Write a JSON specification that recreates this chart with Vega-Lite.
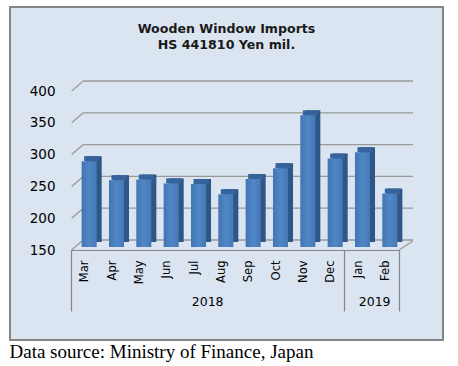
{
  "$schema": "https://vega.github.io/schema/vega-lite/v6.json",
  "width": 433,
  "height": 333,
  "autosize": {"type": "none"},
  "padding": {"left": 10, "top": 7, "right": 15, "bottom": 26},
  "background": "white",
  "view": {"fill": "#dbe5f1", "stroke": "#858585", "strokeWidth": 2},
  "title": {
    "text": ["Wooden Window Imports", "HS 441810 Yen mil."],
    "anchor": "middle",
    "frame": "group",
    "orient": "top",
    "baseline": "bottom",
    "offset": -58,
    "lineHeight": 16,
    "font": "DejaVu Sans",
    "fontSize": 12.6,
    "fontWeight": "bold",
    "color": "#1a1a1a"
  },
  "datasets": {
    "imports": [
      {"month": "Mar", "year": "2018", "value": 285},
      {"month": "Apr", "year": "2018", "value": 255},
      {"month": "May", "year": "2018", "value": 256},
      {"month": "Jun", "year": "2018", "value": 250},
      {"month": "Jul", "year": "2018", "value": 249},
      {"month": "Aug", "year": "2018", "value": 233},
      {"month": "Sep", "year": "2018", "value": 257},
      {"month": "Oct", "year": "2018", "value": 274},
      {"month": "Nov", "year": "2018", "value": 357},
      {"month": "Dec", "year": "2018", "value": 289},
      {"month": "Jan", "year": "2019", "value": 299},
      {"month": "Feb", "year": "2019", "value": 234}
    ],
    "grid": [{"v": 150}, {"v": 200}, {"v": 250}, {"v": 300}, {"v": 350}, {"v": 400}],
    "years": [{"year": "2018"}, {"year": "2019"}]
  },
  "layer": [
    {
      "data": {"name": "grid"},
      "mark": {"type": "rule", "color": "#999999", "strokeWidth": 1.3, "xOffset": 12.3, "x2Offset": 27.6, "yOffset": -7, "y2Offset": -7},
      "encoding": {
        "x": {"datum": "Mar", "type": "nominal", "bandPosition": 0},
        "x2": {"datum": "Feb"},
        "y": {"field": "v", "type": "quantitative"}
      }
    },
    {
      "data": {"name": "grid"},
      "mark": {"type": "rule", "color": "#999999", "strokeWidth": 1.3, "xOffset": 0.7, "x2Offset": -1.4, "yOffset": 3, "y2Offset": -7},
      "encoding": {
        "x": {"datum": "Mar", "type": "nominal", "bandPosition": 0},
        "x2": {"datum": "Mar"},
        "y": {"field": "v", "type": "quantitative"},
        "y2": {"field": "v"}
      }
    },
    {
      "data": {"name": "grid"},
      "transform": [{"filter": "datum.v == 150"}],
      "mark": {"type": "rule", "color": "#999999", "strokeWidth": 1.3, "xOffset": 0, "x2Offset": 27.7, "yOffset": 3, "y2Offset": -6},
      "encoding": {
        "x": {"datum": "Feb", "type": "nominal", "bandPosition": 1},
        "x2": {"datum": "Feb"},
        "y": {"field": "v", "type": "quantitative"},
        "y2": {"field": "v"}
      }
    },
    {
      "data": {"name": "imports"},
      "mark": {"type": "bar", "color": "#2e5686", "width": {"band": 0.55}, "xOffset": 9.5, "yOffset": -5, "y2Offset": -5},
      "encoding": {
        "x": {"field": "month", "type": "nominal"},
        "y": {"field": "value", "type": "quantitative"},
        "y2": {"datum": 150}
      }
    },
    {
      "data": {"name": "imports"},
      "mark": {"type": "bar", "color": "#36639b", "width": {"band": 0.55}, "xOffset": 7, "yOffset": -5, "y2Offset": 0},
      "encoding": {
        "x": {"field": "month", "type": "nominal"},
        "y": {"field": "value", "type": "quantitative"},
        "y2": {"field": "value"}
      }
    },
    {
      "data": {"name": "imports"},
      "mark": {
        "type": "bar",
        "width": {"band": 0.55},
        "xOffset": 4.5,
        "color": {
          "gradient": "linear", "x1": 0, "x2": 1, "y1": 0, "y2": 0,
          "stops": [
            {"offset": 0, "color": "#4374b2"},
            {"offset": 0.5, "color": "#5087c6"},
            {"offset": 1, "color": "#4778b6"}
          ]
        }
      },
      "encoding": {
        "x": {
          "field": "month",
          "type": "nominal",
          "scale": {
            "domain": ["Mar", "Apr", "May", "Jun", "Jul", "Aug", "Sep", "Oct", "Nov", "Dec", "Jan", "Feb"],
            "range": [61, 389],
            "paddingInner": 0,
            "paddingOuter": 0
          },
          "axis": {
            "title": "Data source: Ministry of Finance, Japan",
            "titleFont": "Liberation Serif",
            "titleFontSize": 19,
            "titleFontWeight": "normal",
            "titleColor": "black",
            "titleAnchor": "start",
            "titleAlign": "left",
            "titleBaseline": "alphabetic",
            "titleX": -1,
            "titleY": 107,
            "offset": -90,
            "labelAngle": -90,
            "labelFont": "DejaVu Sans",
            "labelFontSize": 11.5,
            "labelColor": "black",
            "labelPadding": -51,
            "tickBand": "extent",
            "tickSize": 61,
            "tickColor": "#858585",
            "tickWidth": 1.2,
            "tickOpacity": {"condition": {"test": "!datum.value || datum.value == 'Dec' || datum.value == 'Feb'", "value": 1}, "value": 0},
            "domainColor": "#858585",
            "domainWidth": 1.2,
            "grid": false
          }
        },
        "y": {
          "field": "value",
          "type": "quantitative",
          "scale": {"domain": [150, 400], "range": [240, 81], "nice": false, "zero": false},
          "axis": {
            "title": null,
            "values": [150, 200, 250, 300, 350, 400],
            "grid": false,
            "ticks": false,
            "domain": false,
            "offset": -45,
            "labelPadding": 0,
            "labelOffset": 3,
            "labelFont": "DejaVu Sans",
            "labelFontSize": 13.5,
            "labelColor": "black"
          }
        },
        "y2": {"datum": 150}
      }
    },
    {
      "data": {"name": "years"},
      "transform": [{"filter": "datum.year == '2018'"}],
      "mark": {"type": "text", "font": "DejaVu Sans", "fontSize": 12.5, "color": "black", "baseline": "middle", "yOffset": 55},
      "encoding": {
        "x": {"datum": "Jul", "type": "nominal", "bandPosition": 1},
        "y": {"datum": 150, "type": "quantitative"},
        "text": {"field": "year"}
      }
    },
    {
      "data": {"name": "years"},
      "transform": [{"filter": "datum.year == '2019'"}],
      "mark": {"type": "text", "font": "DejaVu Sans", "fontSize": 12.5, "color": "black", "baseline": "middle", "yOffset": 55, "xOffset": 3},
      "encoding": {
        "x": {"datum": "Jan", "type": "nominal", "bandPosition": 1},
        "y": {"datum": 150, "type": "quantitative"},
        "text": {"field": "year"}
      }
    }
  ]
}
